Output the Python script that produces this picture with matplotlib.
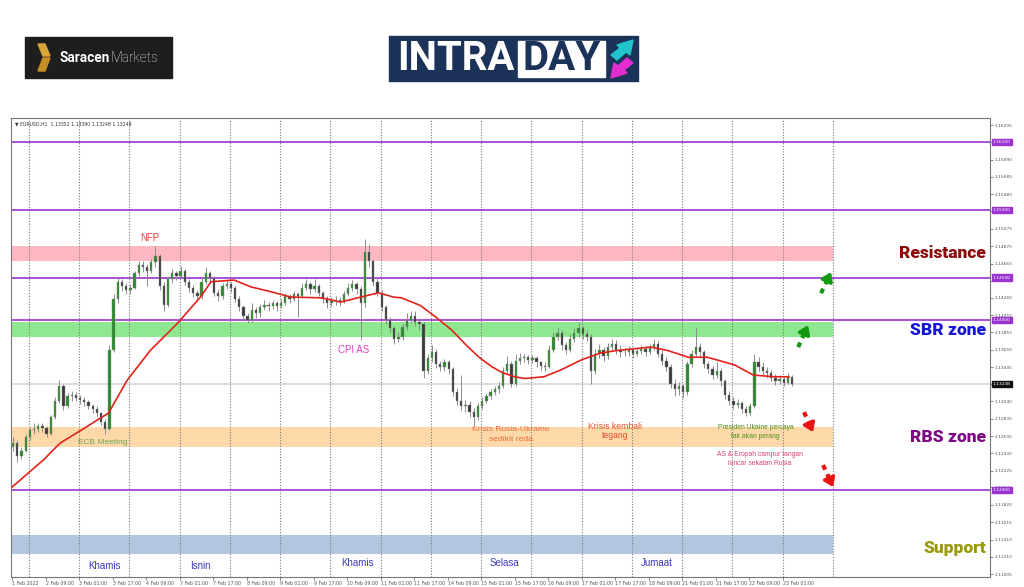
import matplotlib
matplotlib.use('Agg')
import matplotlib.pyplot as plt
from matplotlib.patches import Rectangle, Polygon

# EURUSD H1, 1 Feb - 23 Feb 2022, drawn as 2-hour candles (open = previous close)
first_open = 1.1250
closes = [1.1255, 1.1240, 1.1246, 1.1262, 1.1270, 1.1272, 1.1275, 1.1273, 1.1266, 1.1285,
          1.1305, 1.1322, 1.1298, 1.1310, 1.1312, 1.1308, 1.1306, 1.1303, 1.1298, 1.1295,
          1.1290, 1.1280, 1.1272, 1.1365, 1.1425, 1.1445, 1.1440, 1.1435, 1.1438, 1.1455,
          1.1465, 1.1462, 1.1458, 1.1468, 1.1475, 1.1440, 1.1418, 1.1448, 1.1455, 1.1452,
          1.1458, 1.1445, 1.1438, 1.1432, 1.1428, 1.1445, 1.1455, 1.1450, 1.1432, 1.1428,
          1.1440, 1.1442, 1.1438, 1.1425, 1.1415, 1.1405, 1.1400, 1.1412, 1.1408, 1.1415,
          1.1418, 1.1416, 1.1420, 1.1417, 1.1420, 1.1428, 1.1425, 1.1430, 1.1428, 1.1438,
          1.1442, 1.1436, 1.1440, 1.1432, 1.1425, 1.1420, 1.1422, 1.1424, 1.1422, 1.1430,
          1.1438, 1.1442, 1.1436, 1.1420, 1.1480, 1.1470, 1.1445, 1.1432, 1.1415, 1.1400,
          1.1390, 1.1378, 1.1380, 1.1392, 1.1400, 1.1405, 1.1398, 1.1395, 1.1340, 1.1355,
          1.1362, 1.1348, 1.1345, 1.1350, 1.1342, 1.1315, 1.1305, 1.1298, 1.1300, 1.1292,
          1.1285, 1.1298, 1.1305, 1.1310, 1.1315, 1.1318, 1.1322, 1.1340, 1.1348, 1.1325,
          1.1352, 1.1355, 1.1356, 1.1353, 1.1355, 1.1350, 1.1346, 1.1345, 1.1365, 1.1380,
          1.1385, 1.1370, 1.1365, 1.1378, 1.1385, 1.1390, 1.1383, 1.1380, 1.1340, 1.1360,
          1.1365, 1.1358, 1.1368, 1.1372, 1.1365, 1.1362, 1.1362, 1.1365, 1.1360, 1.1363,
          1.1366, 1.1362, 1.1368, 1.1372, 1.1360, 1.1352, 1.1345, 1.1325, 1.1318, 1.1322,
          1.1315, 1.1348, 1.1360, 1.1368, 1.1362, 1.1348, 1.1342, 1.1335, 1.1340, 1.1328,
          1.1312, 1.1305, 1.1300, 1.1302, 1.1295, 1.1290, 1.1298, 1.1350, 1.1345, 1.1340,
          1.1338, 1.1332, 1.1328, 1.1330, 1.1326, 1.1333, 1.1325]
highs = [1.1262, 1.1258, 1.1250, 1.1266, 1.1274, 1.1278, 1.1279, 1.1278, 1.1275, 1.1288,
         1.1309, 1.1329, 1.1325, 1.1314, 1.1316, 1.1315, 1.1311, 1.1309, 1.1306, 1.1301,
         1.1298, 1.1292, 1.1283, 1.1370, 1.1430, 1.1449, 1.1448, 1.1444, 1.1442, 1.1458,
         1.1470, 1.1470, 1.1466, 1.1472, 1.1487, 1.1478, 1.1445, 1.1452, 1.1460, 1.1458,
         1.1463, 1.1460, 1.1448, 1.1441, 1.1435, 1.1449, 1.1462, 1.1458, 1.1452, 1.1436,
         1.1444, 1.1447, 1.1445, 1.1440, 1.1428, 1.1418, 1.1408, 1.1420, 1.1415, 1.1419,
         1.1423, 1.1421, 1.1424, 1.1422, 1.1425, 1.1432, 1.1431, 1.1434, 1.1433, 1.1443,
         1.1448, 1.1445, 1.1448, 1.1442, 1.1434, 1.1428, 1.1427, 1.1428, 1.1427, 1.1434,
         1.1444, 1.1447, 1.1445, 1.1440, 1.1495, 1.1490, 1.1472, 1.1450, 1.1435, 1.1418,
         1.1404, 1.1393, 1.1386, 1.1396, 1.1408, 1.1410, 1.1410, 1.1402, 1.1398, 1.1360,
         1.1370, 1.1366, 1.1352, 1.1354, 1.1353, 1.1345, 1.1320, 1.1335, 1.1306, 1.1304,
         1.1296, 1.1302, 1.1309, 1.1314, 1.1319, 1.1322, 1.1327, 1.1345, 1.1358, 1.1352,
         1.1360, 1.1361, 1.1360, 1.1359, 1.1359, 1.1357, 1.1352, 1.1350, 1.1370, 1.1386,
         1.1392, 1.1388, 1.1374, 1.1383, 1.1390, 1.1397, 1.1393, 1.1388, 1.1384, 1.1366,
         1.1372, 1.1368, 1.1373, 1.1378, 1.1376, 1.1370, 1.1367, 1.1369, 1.1368, 1.1367,
         1.1370, 1.1369, 1.1372, 1.1377, 1.1375, 1.1364, 1.1356, 1.1348, 1.1330, 1.1327,
         1.1325, 1.1352, 1.1365, 1.1390, 1.1373, 1.1365, 1.1352, 1.1346, 1.1350, 1.1343,
         1.1330, 1.1316, 1.1309, 1.1307, 1.1305, 1.1298, 1.1302, 1.1360, 1.1356, 1.1350,
         1.1345, 1.1341, 1.1336, 1.1335, 1.1333, 1.1338, 1.1335]
lows = [1.1245, 1.1233, 1.1236, 1.1244, 1.1258, 1.1266, 1.1268, 1.1268, 1.1262, 1.1264,
        1.1283, 1.1302, 1.1294, 1.1296, 1.1305, 1.1304, 1.1301, 1.1299, 1.1295, 1.1290,
        1.1286, 1.1276, 1.1265, 1.1270, 1.1362, 1.1420, 1.1434, 1.1430, 1.1431, 1.1436,
        1.1452, 1.1457, 1.1440, 1.1455, 1.1462, 1.1435, 1.1410, 1.1415, 1.1444, 1.1447,
        1.1449, 1.1441, 1.1433, 1.1427, 1.1422, 1.1425, 1.1442, 1.1444, 1.1428, 1.1422,
        1.1425, 1.1436, 1.1433, 1.1421, 1.1410, 1.1400, 1.1396, 1.1398, 1.1402, 1.1404,
        1.1412, 1.1410, 1.1413, 1.1411, 1.1414, 1.1418, 1.1420, 1.1422, 1.1404, 1.1426,
        1.1435, 1.1431, 1.1433, 1.1428, 1.1420, 1.1414, 1.1416, 1.1418, 1.1417, 1.1420,
        1.1428, 1.1434, 1.1430, 1.1376, 1.1415, 1.1462, 1.1440, 1.1428, 1.1410, 1.1395,
        1.1385, 1.1372, 1.1374, 1.1376, 1.1388, 1.1396, 1.1393, 1.1388, 1.1331, 1.1336,
        1.1350, 1.1343, 1.1340, 1.1340, 1.1336, 1.1310, 1.1300, 1.1294, 1.1292, 1.1286,
        1.1275, 1.1282, 1.1295, 1.1302, 1.1307, 1.1311, 1.1314, 1.1320, 1.1336, 1.1321,
        1.1322, 1.1348, 1.1350, 1.1348, 1.1349, 1.1345, 1.1341, 1.1340, 1.1343, 1.1362,
        1.1376, 1.1365, 1.1360, 1.1362, 1.1374, 1.1380, 1.1378, 1.1375, 1.1325, 1.1336,
        1.1355, 1.1352, 1.1354, 1.1363, 1.1360, 1.1356, 1.1357, 1.1358, 1.1355, 1.1357,
        1.1360, 1.1357, 1.1360, 1.1364, 1.1356, 1.1347, 1.1340, 1.1320, 1.1310, 1.1312,
        1.1308, 1.1312, 1.1345, 1.1358, 1.1356, 1.1343, 1.1337, 1.1330, 1.1332, 1.1322,
        1.1307, 1.1300, 1.1295, 1.1296, 1.1290, 1.1287, 1.1288, 1.1296, 1.1340, 1.1335,
        1.1332, 1.1328, 1.1323, 1.1324, 1.1322, 1.1324, 1.1322]

# red moving average, read at hourly bar positions
ma_bars = [0, 15, 23, 33, 42, 46, 55, 66, 79, 90, 95, 106, 114, 124, 133, 148, 157, 165,
           170, 175, 182, 186, 195, 202, 210, 217, 223, 229, 234, 240, 245, 254, 262, 272,
           281, 289, 305, 313, 323, 332, 345, 354, 364, 371]
ma_vals = [1.1203, 1.1235, 1.1255, 1.1270, 1.1284, 1.1290, 1.1329, 1.1364, 1.1396, 1.1427,
           1.1445, 1.1447, 1.1439, 1.1433, 1.1427, 1.1426, 1.1421, 1.1426, 1.1429, 1.1432,
           1.1427, 1.1426, 1.1417, 1.1404, 1.1388, 1.1370, 1.1356, 1.1345, 1.1338, 1.1333,
           1.1331, 1.1333, 1.1341, 1.1353, 1.1361, 1.1364, 1.1368, 1.1364, 1.1356, 1.1356,
           1.1347, 1.1335, 1.1333, 1.1333]

levels = [1.16100, 1.15300, 1.14500, 1.14000, 1.12000]
last_price = 1.13248
zone_bounds = [(1.1469, 1.1487), (1.1380, 1.1398), (1.1250, 1.1274), (1.1124, 1.1147)]
zone_colors = ['#ffb7c2', '#8fe88f', '#fdd9a9', '#b2c6df']
zone_names = ['Resistance', 'SBR zone', 'RBS zone', 'Support']
zone_name_prices = [1.1479, 1.1388, 1.1262, 1.1131]
zone_name_colors = ['#8b0a0a', '#1515d8', '#7d0a84', '#9a9a0a']

xtick_labels = ['1 Feb 2022', '2 Feb 09:00', '3 Feb 01:00', '3 Feb 17:00', '4 Feb 09:00',
                '7 Feb 01:00', '7 Feb 17:00', '8 Feb 09:00', '9 Feb 01:00', '9 Feb 17:00',
                '10 Feb 09:00', '11 Feb 01:00', '11 Feb 17:00', '14 Feb 09:00', '15 Feb 01:00',
                '15 Feb 17:00', '16 Feb 09:00', '17 Feb 01:00', '17 Feb 17:00', '18 Feb 09:00',
                '21 Feb 01:00', '21 Feb 17:00', '22 Feb 09:00', '23 Feb 01:00']
ytick_vals = [1.16295, 1.16095, 1.15890, 1.15685, 1.15480, 1.15280, 1.15075, 1.14870,
              1.14665, 1.14460, 1.14260, 1.14055, 1.13855, 1.13650, 1.13445, 1.13240,
              1.13040, 1.12835, 1.12630, 1.12430, 1.12225, 1.12025, 1.11820, 1.11615,
              1.11410, 1.11210, 1.11005]

day_names = ['Khamis', 'Isnin', 'Khamis', 'Selasa', 'Jumaat']
day_bars = [44, 90, 165, 235, 308]
day_prices = [1.1110, 1.1110, 1.1113, 1.1113, 1.1113]

# --- figure -------------------------------------------------------------
W, H = 1024, 587
fig = plt.figure(figsize=(W / 100, H / 100), dpi=100)
fig.patch.set_facecolor('white')
ax = fig.add_axes([11 / W, 10 / H, 979 / W, 459 / H])

xmax_bar = 467
ax.set_xlim(-0.5, xmax_bar)
ax.set_ylim(1.10970, 1.16380)

zone_end = 392
# zones
for (lo, hi), col in zip(zone_bounds, zone_colors):
    ax.add_patch(Rectangle((-0.5, lo), zone_end + 0.5, hi - lo, color=col, lw=0, zorder=0))

# vertical dotted grid (every 24 bars)
for b in range(8, zone_end + 1, 24):
    ax.axvline(b, color='#7a7a7a', lw=0.8, ls=(0, (1, 1.5)), zorder=1)

# levels
for lv in levels:
    ax.axhline(lv, color='#9a33d0', lw=1.2, zorder=2)
ax.axhline(last_price, color='#d8d8d8', lw=1.2, zorder=1.5)

# candles
opens = [first_open] + closes[:-1]
xs = [2 * j + 0.5 for j in range(len(closes))]
ax.vlines(xs, lows, highs, color='#8c8c8c', lw=0.7, zorder=3)
for x, o, c in zip(xs, opens, closes):
    col = '#2b8a2b' if c >= o else '#3a3a3a'
    lo, hi = min(o, c), max(o, c)
    ax.add_patch(Rectangle((x - 0.55, lo), 1.1, max(hi - lo, 0.00004),
                           facecolor=col, edgecolor='#8a8a8a', lw=0.3, zorder=4))

# moving average
ax.plot(ma_bars, ma_vals, color='#e0241c', lw=1.2, zorder=5)

# axes styling
for s in ax.spines.values():
    s.set_color('#777777')
    s.set_linewidth(0.8)
ax.yaxis.tick_right()
ax.set_yticks(ytick_vals)
ax.set_yticklabels(['%.5f' % v for v in ytick_vals])
ax.tick_params(axis='y', labelsize=3.2, colors='#555555', length=2, width=0.5, pad=1)
ax.set_xticks([16 * k for k in range(len(xtick_labels))])
ax.set_xticklabels(xtick_labels)
ax.tick_params(axis='x', labelsize=3.4, colors='#555555', length=2, width=0.5, pad=1)
for lab in ax.get_xticklabels():
    lab.set_ha('left')

# right-side level boxes
ytrans = ax.get_yaxis_transform()
for lv in levels:
    ax.text(1.003, lv, '%.5f' % lv, transform=ytrans, fontsize=3.2, color='white',
            va='center', ha='left', clip_on=False, zorder=10,
            bbox=dict(boxstyle='square,pad=0.25', fc='#9a33d0', ec='#9a33d0'))
ax.text(1.003, last_price, '%.5f' % last_price, transform=ytrans, fontsize=3.2,
        color='white', va='center', ha='left', clip_on=False, zorder=10,
        bbox=dict(boxstyle='square,pad=0.25', fc='#111111', ec='#111111'))

# symbol header
ax.text(0.004, 0.992, '\u25bc EURUSD,H1  1.13352 1.13390 1.13248 1.13248', transform=ax.transAxes,
        fontsize=3.3, color='#333333', va='top', ha='left')

# zone names
for name, p, col in zip(zone_names, zone_name_prices, zone_name_colors):
    ax.text(465, p, name, fontsize=12.5, fontweight='black', family='Roboto', color=col,
            ha='right', va='center', zorder=8)

# event notes
ann = dict(family='Liberation Sans', ha='center', va='center', zorder=8)
ax.text(66, 1.1496, 'NFP', fontsize=7, color='#e03a3a', **ann)
ax.text(163, 1.1364, 'CPI AS', fontsize=7, color='#e040c8', **ann)
ax.text(43.5, 1.1256, 'ECB Meeting', fontsize=6, color='#6aa84f', **ann)
ax.text(238, 1.1265, 'Krisis Rusia-Ukraine\nsedikit reda', fontsize=6.1, color='#ec6a3c',
        linespacing=1.5, **ann)
ax.text(288, 1.1269, 'Krisis kembali\ntegang', fontsize=6.2, color='#e8502a',
        linespacing=1.05, **ann)
ax.text(355, 1.1268, 'Presiden Ukaine percaya\ntak akan perang', fontsize=4.9, color='#4b8f1e',
        linespacing=1.3, **ann)
ax.text(357, 1.1236, 'AS & Eropah campur tangan\nlancar sekatan Rusia', fontsize=4.9,
        color='#d8407a', linespacing=1.3, **ann)
for n, b, p in zip(day_names, day_bars, day_prices):
    ax.text(b, p, n, fontsize=7, color='#3a3ab8', **ann)

# dashed scenario arrows
arrows = [((375.4, 1.13679), (380.1, 1.13938), '#119a11'),
          ((386.3, 1.14315), (391.1, 1.14563), '#119a11'),
          ((378.2, 1.12913), (382.5, 1.12678), '#e81414'),
          ((387.3, 1.12289), (392.1, 1.12030), '#e81414')]
for (x0, y0), (x1, y1), col in arrows:
    mx, my = x0 + 0.55 * (x1 - x0), y0 + 0.55 * (y1 - y0)
    ax.plot([x0, mx], [y0, my], color=col, lw=3, ls=(0, (1.2, 1.2)), solid_capstyle='butt',
            zorder=9)
    ax.annotate('', xy=(x1, y1), xytext=(mx, my),
                arrowprops=dict(arrowstyle='-|>,head_length=0.5,head_width=0.35', color=col,
                                lw=2.5, shrinkA=0, shrinkB=0), zorder=9)

# --- logos (pixel overlay) --------------------------------------------------
ov = fig.add_axes([0, 0, 1, 1])
ov.set_xlim(0, W)
ov.set_ylim(H, 0)
ov.axis('off')
ov.patch.set_visible(False)

ov.add_patch(Rectangle((25, 37), 147, 41, color='#1e1e1e'))
ov.add_patch(Polygon([(38, 44), (45, 44), (50, 56), (43, 56)], color='#d9a43a'))
ov.add_patch(Polygon([(43, 58), (50, 58), (45, 71), (38, 71)], color='#c58f25'))
ov.text(60, 58, 'Saracen', fontsize=9.8, fontweight='bold', family='Roboto', color='white',
        va='center', ha='left')
ov.text(111, 58, 'Markets', fontsize=9.8, fontweight='light', family='Roboto', color='#e8e8e8',
        va='center', ha='left')

ov.add_patch(Rectangle((389, 36), 249, 45, color='#1b3358'))
ov.add_patch(Rectangle((518, 41), 87, 36, color='white'))
ov.text(456, 59, 'INTRA', fontsize=29, fontweight='bold', family='Roboto', color='white',
        va='center', ha='center')
ov.text(561.5, 59.5, 'DAY', fontsize=29, fontweight='bold', family='Roboto', color='#1b3358',
        va='center', ha='center')
ov.add_patch(Polygon([(611, 55), (620, 48), (617, 45), (633, 40), (630, 55), (626, 52),
                      (617, 60)], color='#22c4cc'))
ov.add_patch(Polygon([(633, 63), (624, 70), (627, 73), (611, 78), (614, 63), (618, 66),
                      (627, 58)], color='#e52ccf'))

fig.savefig('out.png', dpi=100)
